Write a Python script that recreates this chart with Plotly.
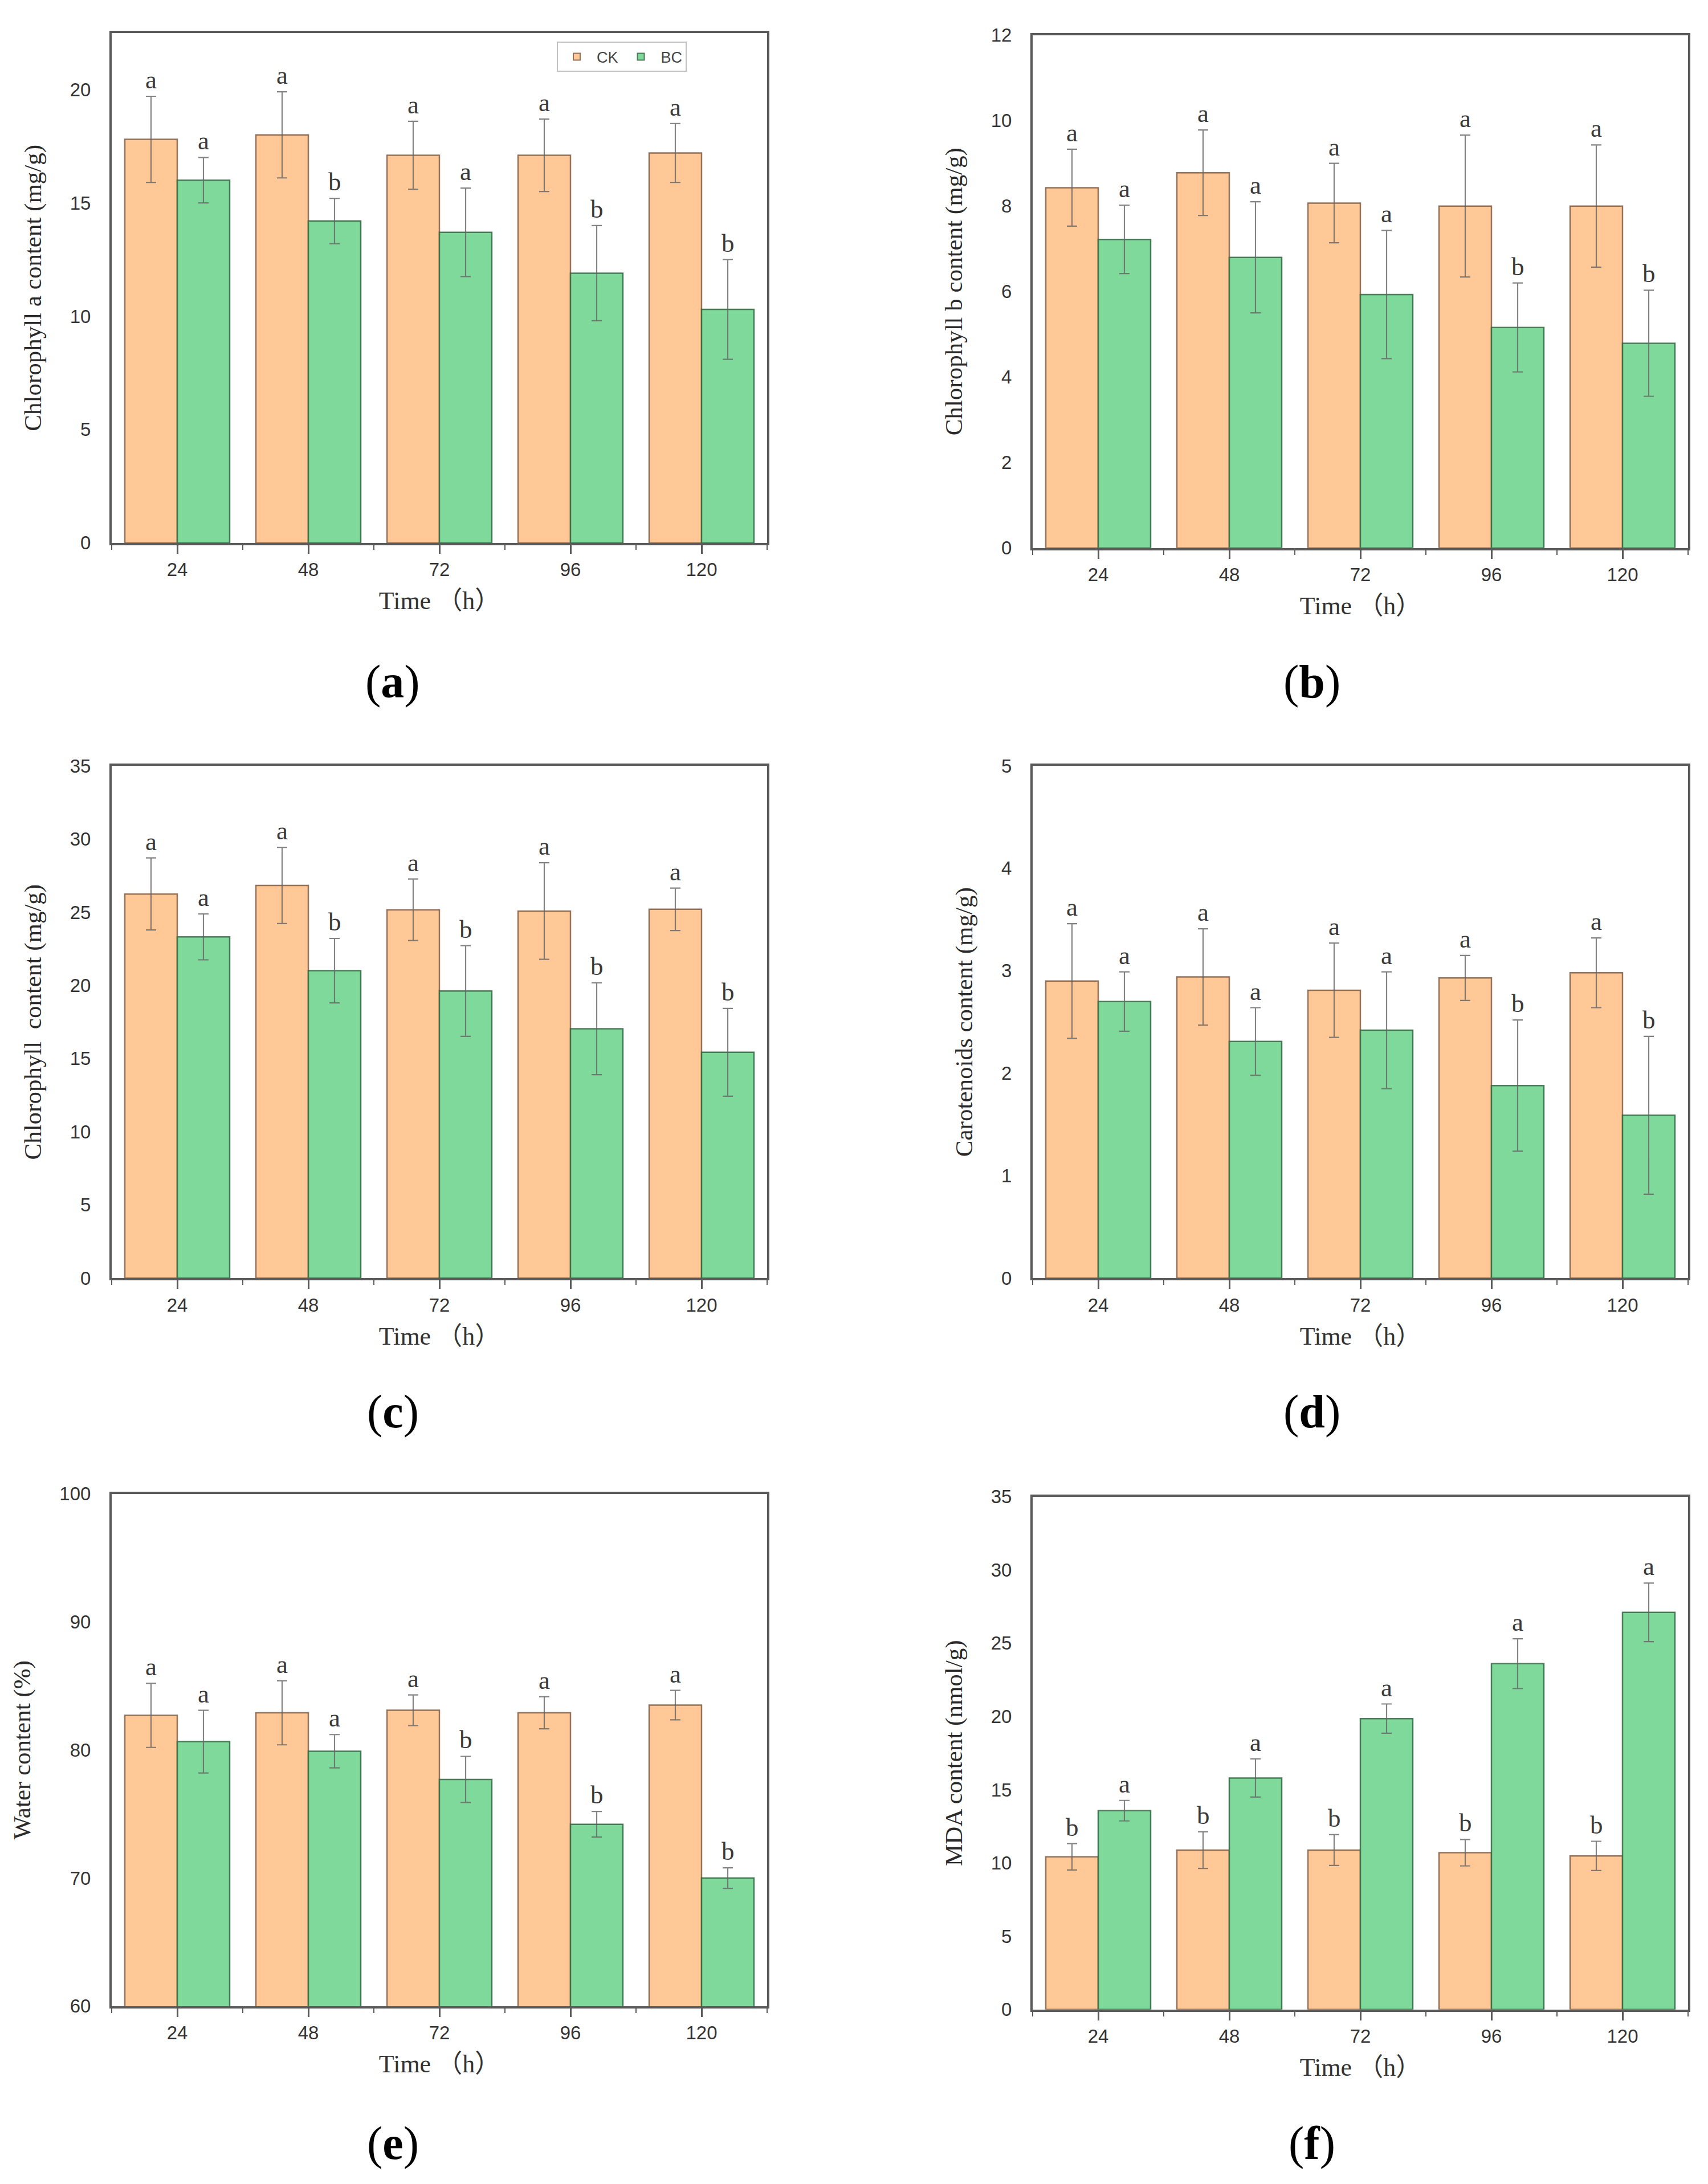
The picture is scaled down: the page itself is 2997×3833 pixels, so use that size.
import plotly.graph_objects as go

# time points (h)
hours = ["24", "48", "72", "96", "120"]

# (a) chlorophyll a (mg/g)
chla_ck = [17.8, 18.0, 17.1, 17.1, 17.2]
chla_ck_sd = [1.9, 1.9, 1.5, 1.6, 1.3]
chla_bc = [16.0, 14.2, 13.7, 11.9, 10.3]
chla_bc_sd = [1.0, 1.0, 1.95, 2.1, 2.2]
chla_ck_sig = ["a", "a", "a", "a", "a"]
chla_bc_sig = ["a", "b", "a", "b", "b"]

# (b) chlorophyll b (mg/g)
chlb_ck = [8.43, 8.78, 8.07, 8.0, 8.0]
chlb_ck_sd = [0.9, 1.0, 0.93, 1.66, 1.43]
chlb_bc = [7.22, 6.8, 5.93, 5.16, 4.79]
chlb_bc_sd = [0.8, 1.3, 1.5, 1.04, 1.24]
chlb_ck_sig = ["a", "a", "a", "a", "a"]
chlb_bc_sig = ["a", "a", "a", "b", "b"]

# (c) chlorophyll (mg/g)
chl_ck = [26.25, 26.83, 25.17, 25.08, 25.2]
chl_ck_sd = [2.46, 2.6, 2.1, 3.3, 1.45]
chl_bc = [23.32, 21.01, 19.62, 17.04, 15.43]
chl_bc_sd = [1.57, 2.2, 3.1, 3.14, 3.0]
chl_ck_sig = ["a", "a", "a", "a", "a"]
chl_bc_sig = ["a", "b", "b", "b", "b"]

# (d) carotenoids (mg/g)
car_ck = [2.90, 2.94, 2.81, 2.93, 2.98]
car_ck_sd = [0.56, 0.47, 0.46, 0.22, 0.34]
car_bc = [2.70, 2.31, 2.42, 1.88, 1.59]
car_bc_sd = [0.29, 0.33, 0.57, 0.64, 0.77]
car_ck_sig = ["a", "a", "a", "a", "a"]
car_bc_sig = ["a", "a", "a", "b", "b"]

# (e) water content (%)
water_ck = [82.7, 82.9, 83.1, 82.9, 83.5]
water_ck_sd = [2.5, 2.5, 1.2, 1.25, 1.15]
water_bc = [80.65, 79.9, 77.7, 74.2, 70.0]
water_bc_sd = [2.45, 1.3, 1.8, 1.0, 0.8]
water_ck_sig = ["a", "a", "a", "a", "a"]
water_bc_sig = ["a", "a", "b", "b", "b"]

# (f) MDA (nmol/g)
mda_ck = [10.42, 10.88, 10.88, 10.7, 10.48]
mda_ck_sd = [0.9, 1.25, 1.05, 0.9, 1.0]
mda_bc = [13.57, 15.8, 19.85, 23.6, 27.1]
mda_bc_sd = [0.7, 1.3, 1.0, 1.7, 2.0]
mda_ck_sig = ["b", "b", "b", "b", "b"]
mda_bc_sig = ["a", "a", "a", "a", "a"]

W, H = 2997, 3833
CK_COLOR = "#FFC896"
BC_COLOR = "#7FD99B"
AXIS_COLOR = "#5a5a5a"
SERIF = "Liberation Serif, Times New Roman, serif"
SANS = "Liberation Sans, Arial, sans-serif"
TITLE_FONT = "Liberation Serif, Noto Sans CJK SC, serif"


def px_x(v):
    return v / W


def px_y(v):
    return 1 - v / H


panels = [
    # box in pixels (left, top, right, bottom), lab = panel letter position
    dict(tag="a", ytitle="Chlorophyll a content (mg/g)", yrange=[0, 22.5], dtick=5,
         ck=chla_ck, ck_sd=chla_ck_sd, bc=chla_bc, bc_sd=chla_bc_sd,
         ck_sig=chla_ck_sig, bc_sig=chla_bc_sig, box=(196, 40, 1346, 944), lab=(689, 1190)),
    dict(tag="b", ytitle="Chlorophyll b content (mg/g)", yrange=[0, 12], dtick=2,
         ck=chlb_ck, ck_sd=chlb_ck_sd, bc=chlb_bc, bc_sd=chlb_bc_sd,
         ck_sig=chlb_ck_sig, bc_sig=chlb_bc_sig, box=(1812, 44, 2962, 953), lab=(2302, 1190)),
    dict(tag="c", ytitle="Chlorophyll  content (mg/g)", yrange=[0, 35], dtick=5,
         ck=chl_ck, ck_sd=chl_ck_sd, bc=chl_bc, bc_sd=chl_bc_sd,
         ck_sig=chl_ck_sig, bc_sig=chl_bc_sig, box=(196, 1339, 1346, 2247), lab=(689, 2483)),
    dict(tag="d", ytitle="Carotenoids content (mg/g)", yrange=[0, 5], dtick=1,
         ck=car_ck, ck_sd=car_ck_sd, bc=car_bc, bc_sd=car_bc_sd,
         ck_sig=car_ck_sig, bc_sig=car_bc_sig, box=(1812, 1339, 2962, 2247), lab=(2302, 2483)),
    dict(tag="e", ytitle="Water content (%)", yrange=[60, 100], dtick=10,
         ck=water_ck, ck_sd=water_ck_sd, bc=water_bc, bc_sd=water_bc_sd,
         ck_sig=water_ck_sig, bc_sig=water_bc_sig, box=(196, 2629, 1346, 3537), lab=(689, 3780)),
    dict(tag="f", ytitle="MDA content (nmol/g)", yrange=[0, 35], dtick=5,
         ck=mda_ck, ck_sd=mda_ck_sd, bc=mda_bc, bc_sd=mda_bc_sd,
         ck_sig=mda_ck_sig, bc_sig=mda_bc_sig, box=(1812, 2634, 2962, 3543), lab=(2302, 3780)),
]

fig = go.Figure()
annotations = []
pos = list(range(len(hours)))

for i, p in enumerate(panels, start=1):
    xa = "x" if i == 1 else "x%d" % i
    ya = "y" if i == 1 else "y%d" % i
    for name, vals, sd, color, edge in [("CK", p["ck"], p["ck_sd"], CK_COLOR, "rgba(120,85,60,0.8)"),
                                        ("BC", p["bc"], p["bc_sd"], BC_COLOR, "rgba(45,95,60,0.8)")]:
        fig.add_trace(go.Bar(
            x=pos, y=vals, name=name, xaxis=xa, yaxis=ya,
            marker=dict(color=color, line=dict(color=edge, width=2.5)),
            error_y=dict(type="data", array=sd, visible=True, color="rgba(100,100,100,0.8)",
                         thickness=2.2, width=9),
            showlegend=(i == 1), legendgroup=name,
        ))
    # significance letters above the error bars
    for k in pos:
        for off, vals, sd, sig in [(-0.2, p["ck"], p["ck_sd"], p["ck_sig"]),
                                   (0.2, p["bc"], p["bc_sd"], p["bc_sig"])]:
            annotations.append(dict(
                x=k + off, y=vals[k] + sd[k], xref=xa, yref=ya, text=sig[k],
                showarrow=False, xanchor="center", yanchor="bottom", yshift=2,
                font=dict(family=SERIF, size=45, color="#3a3a3a"),
            ))
    l, t, r, b = p["box"]
    axis_common = dict(showline=True, mirror=True, linecolor=AXIS_COLOR, linewidth=4,
                       showgrid=False, zeroline=False)
    fig.layout["xaxis" if i == 1 else "xaxis%d" % i] = dict(
        axis_common, domain=[px_x(l), px_x(r)], anchor=ya, range=[-0.5, len(hours) - 0.5],
        tickmode="array", tickvals=pos, ticktext=hours, ticks="outside", ticklen=15,
        tickwidth=3, tickcolor=AXIS_COLOR, ticklabelstandoff=0,
        minor=dict(tickmode="array", tickvals=[k - 0.5 for k in range(len(hours) + 1)],
                   ticks="outside", ticklen=8, tickwidth=2, tickcolor=AXIS_COLOR),
        tickfont=dict(family=SANS, size=33, color="#333333"),
        title=dict(text="Time \uff08h\uff09", standoff=22,
                   font=dict(family=TITLE_FONT, size=44, color="#333333")),
    )
    fig.layout["yaxis" if i == 1 else "yaxis%d" % i] = dict(
        axis_common, domain=[px_y(b), px_y(t)], anchor=xa, range=p["yrange"],
        dtick=p["dtick"], tick0=0, ticks="", ticklabelstandoff=26,
        tickfont=dict(family=SANS, size=33, color="#333333"),
        title=dict(text=p["ytitle"], standoff=38,
                   font=dict(family=SERIF, size=43, color="#2a2a2a")),
    )
    lx, ly = p["lab"]
    annotations.append(dict(
        x=px_x(lx), y=px_y(ly), xref="paper", yref="paper",
        xanchor="center", yanchor="middle",
        text="(<b>%s</b>)" % p["tag"], showarrow=False,
        font=dict(family=SERIF, size=82, color="black"),
    ))

fig.update_layout(
    width=W, height=H, margin=dict(l=0, r=0, t=0, b=0),
    paper_bgcolor="white", plot_bgcolor="white",
    barmode="group", bargap=0.2, bargroupgap=0,
    annotations=annotations,
    legend=dict(orientation="h", x=px_x(977), y=px_y(56), xanchor="left", yanchor="top",
                bgcolor="white", bordercolor="#c0c0c0", borderwidth=2,
                font=dict(family=SANS, size=27, color="#444444"),
                itemwidth=60, itemsizing="constant"),
)

# no page margin around the figure, no modebar
fig.write_html("out.html", config={"displayModeBar": False},
               post_script="document.body.style.margin='0';")
